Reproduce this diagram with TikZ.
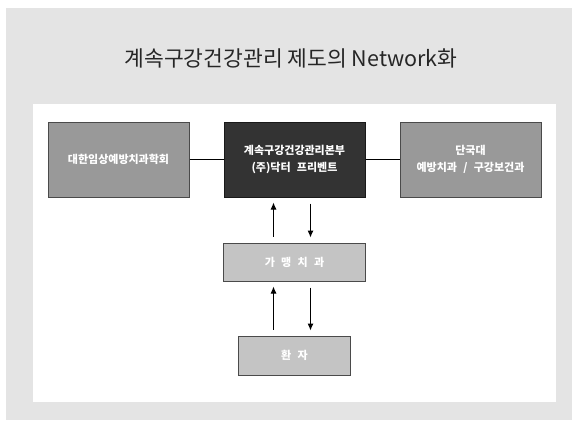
\documentclass[tikz,border=0pt]{standalone}
\usepackage{fontspec}
\setmainfont{Noto Sans CJK KR}[WordSpace=2.5]
\newfontfamily\titlefont{Noto Sans CJK KR}
\usetikzlibrary{positioning,arrows.meta}
\definecolor{panelgray}{HTML}{E4E4E4}
\definecolor{boxline}{HTML}{4A4A4A}
\definecolor{midgray}{HTML}{999999}
\definecolor{darkbox}{HTML}{333333}
\definecolor{lightbox}{HTML}{C4C4C4}

\begin{document}
\begin{tikzpicture}[x=1pt,y=-1pt,node distance=176pt,on grid,
  org/.style={draw=boxline,line width=1pt,fill=midgray,minimum width=141pt,minimum height=75pt,
    inner sep=0pt,align=center,text=white,font=\bfseries\fontsize{11}{17}\selectfont},
  member/.style={org,fill=lightbox,minimum width=142pt,minimum height=38pt},
  link/.style={line width=0.8pt,black},
  flow/.style={line width=1pt,black,-{Latex[length=7pt,width=6pt]},shorten >=5pt,shorten <=6pt}]
  \useasboundingbox (0,0) rectangle (572,420);
  \fill[panelgray] (6,8) rectangle (572,420);
  \fill[white] (33,104) rectangle (556,402);
  \node[font=\titlefont\fontsize{21.5}{26}\selectfont,text=black!85] (title) at (291,58) {계속구강건강관리 제도의 Network화};

  \node[org,fill=darkbox,draw=black!90] (hq) at (294.5,159.5) {계속구강건강관리본부\\(주)닥터 프리벤트};
  \node[org]             (society) [left=of hq]  {대한임상예방치과학회};
  \node[org]             (dankook) [right=of hq] {단국대\\예방치과 / 구강보건과};
  \node[member]          (clinic)  [below=102.5pt of hq] {가 맹 치 과};
  \node[member,minimum width=112pt,minimum height=39pt] (patient) [below=93.5pt of clinic] {환 자};

  \draw[link] (society) -- (hq);
  \draw[link] (hq) -- (dankook);
  \draw[flow] ([xshift=-21pt]clinic.north) -- ([xshift=-21pt]hq.south);
  \draw[flow] ([xshift=16pt]hq.south) -- ([xshift=16pt]clinic.north);
  \draw[flow] ([xshift=-21pt]patient.north) -- ([xshift=-21pt]clinic.south);
  \draw[flow] ([xshift=16pt]clinic.south) -- ([xshift=16pt]patient.north);
\end{tikzpicture}
\end{document}
